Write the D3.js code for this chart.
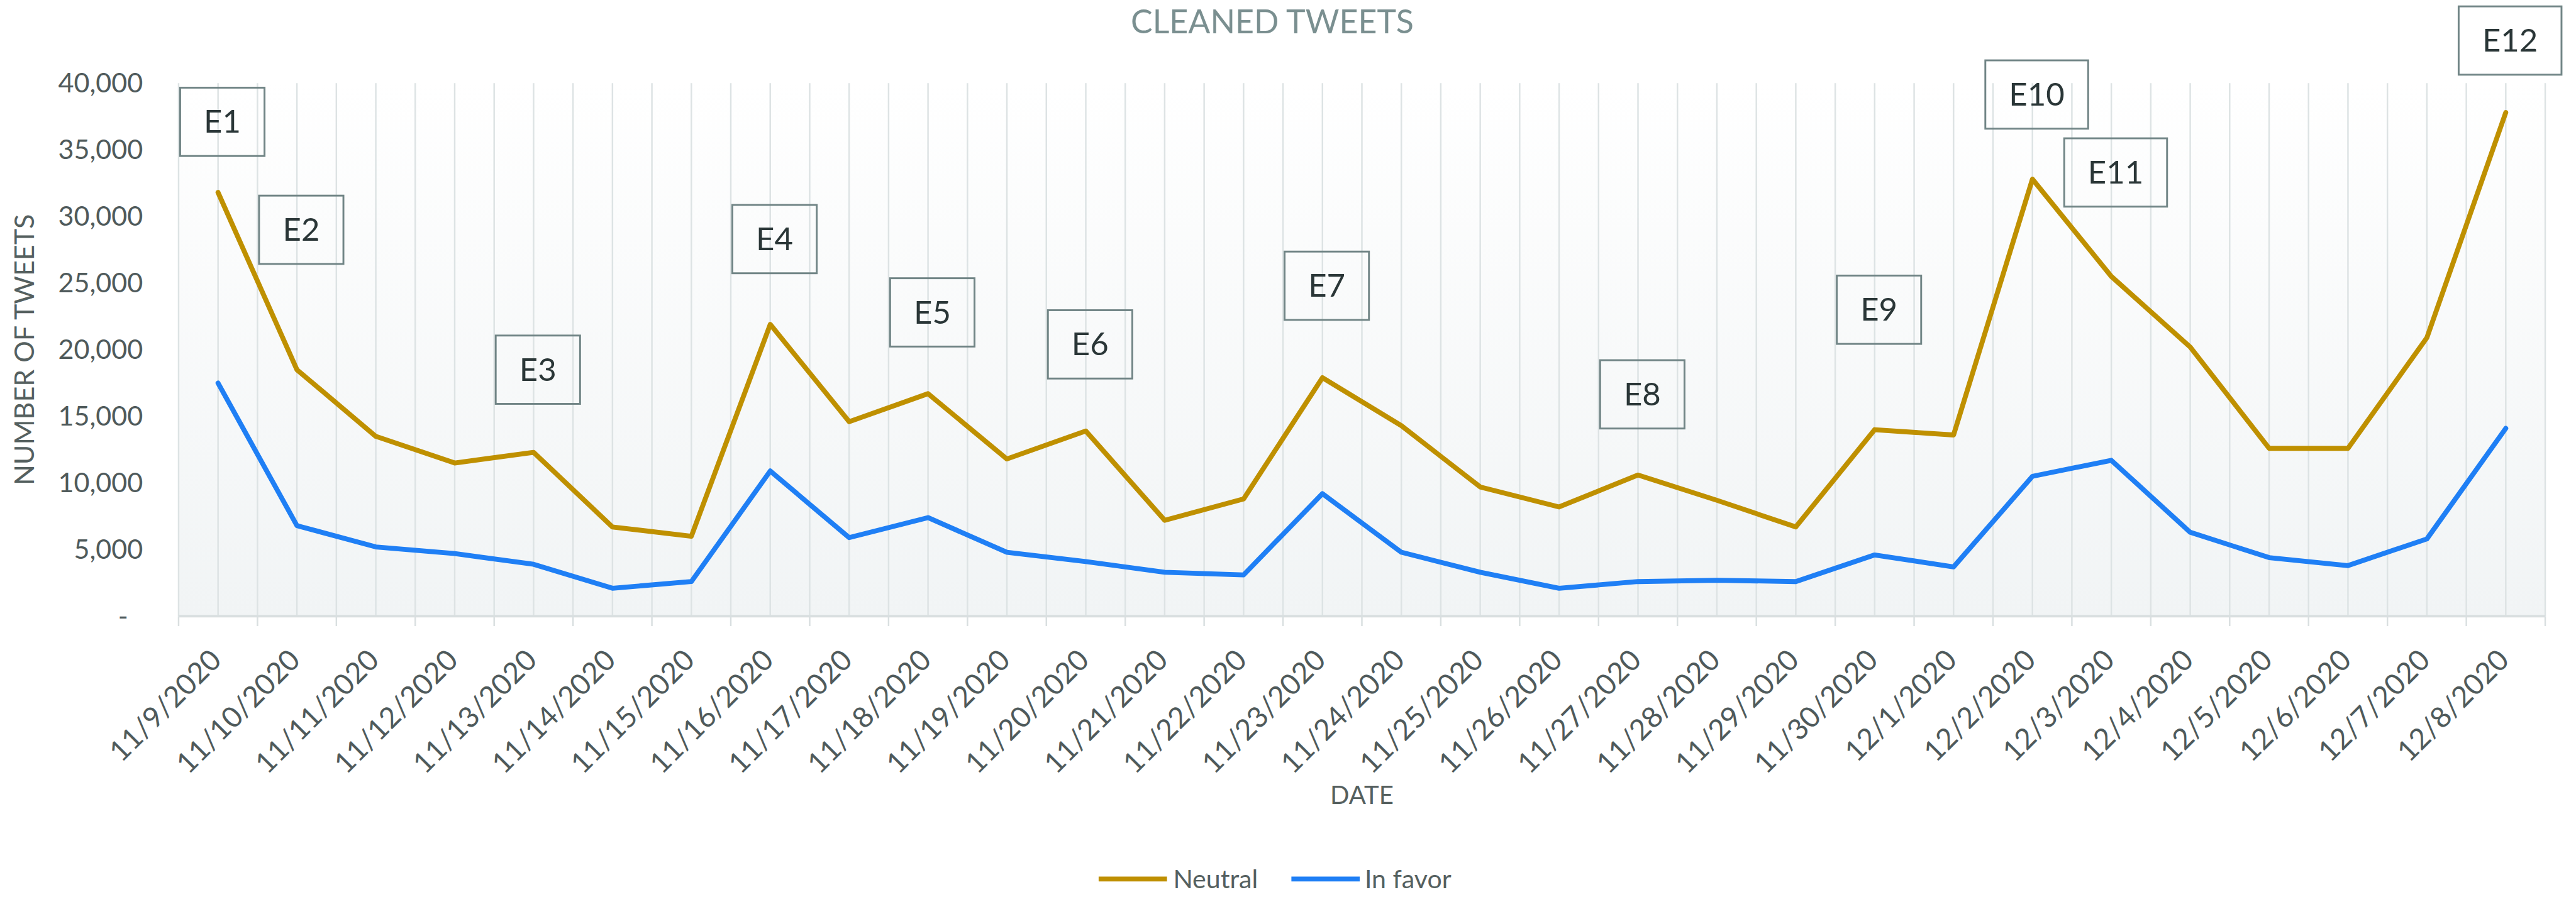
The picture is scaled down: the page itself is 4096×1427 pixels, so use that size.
<!DOCTYPE html>
<html><head><meta charset="utf-8">
<script src="https://cdn.jsdelivr.net/npm/d3@7"></script>
<style>html,body{margin:0;padding:0;background:#fff;overflow:hidden}svg{display:block}</style>
</head><body>
<svg id="chart" width="4096" height="1427" viewBox="0 0 4183 1457"></svg>
<script>
const dates = ["11/9/2020","11/10/2020","11/11/2020","11/12/2020","11/13/2020","11/14/2020","11/15/2020","11/16/2020","11/17/2020","11/18/2020","11/19/2020","11/20/2020","11/21/2020","11/22/2020","11/23/2020","11/24/2020","11/25/2020","11/26/2020","11/27/2020","11/28/2020","11/29/2020","11/30/2020","12/1/2020","12/2/2020","12/3/2020","12/4/2020","12/5/2020","12/6/2020","12/7/2020","12/8/2020"];
const neutral = [31800,18500,13500,11500,12300,6700,6000,21900,14600,16700,11800,13900,7200,8800,17900,14300,9700,8200,10600,8700,6700,14000,13600,32800,25500,20200,12600,12600,20900,37800];
const inFavor = [17500,6800,5200,4700,3900,2100,2600,10900,5900,7400,4800,4100,3300,3100,9200,4800,3300,2100,2600,2700,2600,4600,3700,10500,11700,6300,4400,3800,5800,14100];
const yTicks = [0,5000,10000,15000,20000,25000,30000,35000,40000];
const eventLabels = ["E1","E2","E3","E4","E5","E6","E7","E8","E9","E10","E11","E12"];
const eventDates = ["11/9/2020","11/10/2020","11/13/2020","11/16/2020","11/18/2020","11/20/2020","11/23/2020","11/27/2020","11/30/2020","12/2/2020","12/3/2020","12/8/2020"];
const eventLevels = [37100,29000,18500,28300,22800,20400,24800,16650,23000,39150,33300,43200];
const seriesNames = ["Neutral","In favor"];

const FONT = "Lato, 'Open Sans', sans-serif";
const colors = {"Neutral":"#bf9000","In favor":"#1f7ff5"};
const svg = d3.select("#chart");
const L = 290, R = 4133, T = 135, B = 1001;

const x = d3.scaleBand().domain(dates).range([L, R]).padding(0);
const bw = x.bandwidth();
const cx = d => x(d) + bw / 2;
const y = d3.scaleLinear().domain([0, 40000]).range([B, T]);

// background gradient for plot area
const defs = svg.append("defs");
const grad = defs.append("linearGradient").attr("id","bg").attr("x1",0).attr("y1",0).attr("x2",0).attr("y2",1);
grad.append("stop").attr("offset","0%").attr("stop-color","#ffffff");
grad.append("stop").attr("offset","100%").attr("stop-color","#f1f4f5");
svg.append("rect").attr("x",L).attr("y",T).attr("width",R-L).attr("height",B-T).attr("fill","url(#bg)");

// vertical gridlines at band boundaries and centres
const gridX = [];
dates.forEach(d => { gridX.push(x(d)); gridX.push(cx(d)); });
gridX.push(R);
svg.append("g").selectAll("line").data(gridX).join("line")
  .attr("x1",d=>d).attr("x2",d=>d).attr("y1",T).attr("y2",B)
  .attr("stroke","#dde3e4").attr("stroke-width",2.5);

// x axis line and ticks at boundaries
const bounds = dates.map(d => x(d)).concat([R]);
svg.append("line").attr("x1",L).attr("x2",R).attr("y1",B).attr("y2",B)
  .attr("stroke","#d9dfe0").attr("stroke-width",4);
svg.append("g").selectAll("line").data(bounds).join("line")
  .attr("x1",d=>d).attr("x2",d=>d).attr("y1",B).attr("y2",B+16)
  .attr("stroke","#d9dfe0").attr("stroke-width",2.5);

// x tick labels
const xAxis = svg.append("g").attr("transform",`translate(0,${B})`)
  .call(d3.axisBottom(x).tickSize(0).tickFormat(d=>d));
xAxis.select(".domain").remove();
xAxis.selectAll("text")
  .attr("x",0).attr("y",0).attr("dy",null)
  .attr("text-anchor","end")
  .attr("transform","translate(8,74) rotate(-45)")
  .style("font-family",FONT).style("font-size","47px").style("fill","#4f5a5b");

// y axis labels
const yAxis = svg.append("g").attr("transform",`translate(${L},0)`)
  .call(d3.axisLeft(y).tickValues(yTicks).tickSize(0).tickPadding(58)
    .tickFormat(d => d === 0 ? "-" : d3.format(",")(d)));
yAxis.select(".domain").remove();
yAxis.selectAll("text")
  .style("font-family",FONT).style("font-size","44px").style("fill","#4f5a5b");
yAxis.selectAll(".tick").filter(d => d === 0).select("text").attr("x",-82);

// lines
const line = d3.line().x((v,i)=>cx(dates[i])).y(v=>y(v));
[["Neutral",neutral],["In favor",inFavor]].forEach(([name,vals]) => {
  svg.append("path").datum(vals).attr("d",line).attr("fill","none")
    .attr("stroke",colors[name]).attr("stroke-width",8)
    .attr("stroke-linejoin","round").attr("stroke-linecap","round");
});

// event annotation boxes
const ev = svg.append("g");
eventLabels.forEach((lab,i) => {
  const w = 137 + (lab.length - 2) * 30, h = 111;
  const mx = cx(eventDates[i]) + 7, my = y(eventLevels[i]);
  ev.append("rect").attr("x",mx-w/2).attr("y",my-h/2).attr("width",w).attr("height",h)
    .attr("fill","none").attr("stroke","#718586").attr("stroke-width",3);
  ev.append("text").attr("x",mx).attr("y",my+18).attr("text-anchor","middle")
    .style("font-family",FONT).style("font-size","52px").style("fill","#2a3637").text(lab);
});

// title
svg.append("text").attr("x",2066).attr("y",54).attr("text-anchor","middle")
  .style("font-family",FONT).style("font-size","53px").style("fill","#7a8f90")
  .text("CLEANED TWEETS");

// axis titles
svg.append("text").attr("transform",`translate(55,${(T+B)/2}) rotate(-90)`)
  .attr("text-anchor","middle")
  .style("font-family",FONT).style("font-size","44px").style("fill","#55605f")
  .text("NUMBER OF TWEETS");
svg.append("text").attr("x",(L+R)/2).attr("y",1306).attr("text-anchor","middle")
  .style("font-family",FONT).style("font-size","41px").style("fill","#55605f")
  .text("DATE");

// legend
const legendPos = [{lx:1784, tx:1905},{lx:2097, tx:2216}];
seriesNames.forEach((name,i) => {
  const p = legendPos[i];
  svg.append("line").attr("x1",p.lx).attr("x2",p.lx+111).attr("y1",1428).attr("y2",1428)
    .attr("stroke",colors[name]).attr("stroke-width",8);
  svg.append("text").attr("x",p.tx).attr("y",1443)
    .style("font-family",FONT).style("font-size","42px").style("fill","#55605f")
    .text(name);
});
</script>
</body></html>
